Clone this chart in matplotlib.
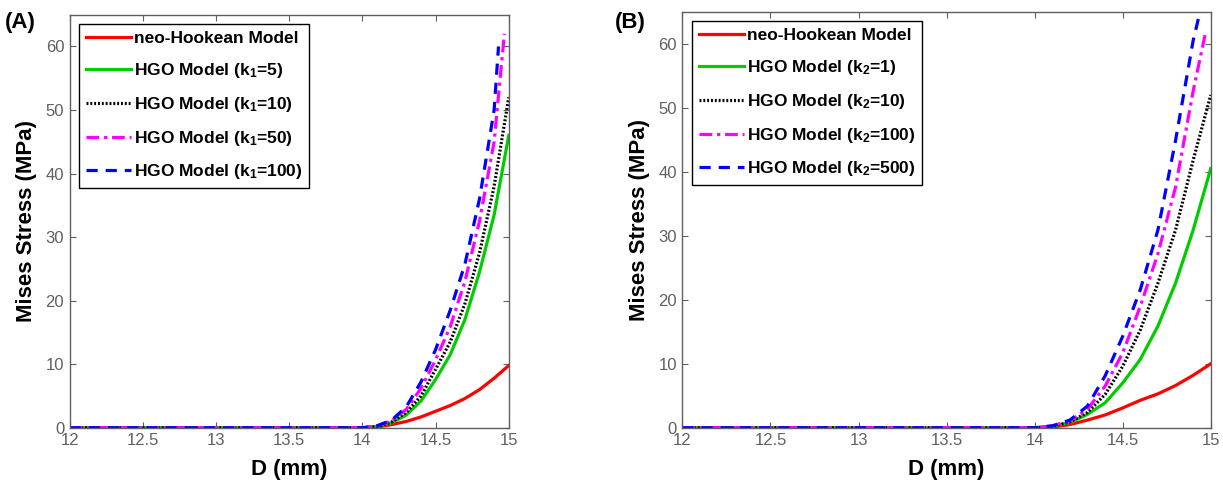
import matplotlib.pyplot as plt

plt.rcParams['font.family'] = ['Liberation Sans', 'DejaVu Sans']
plt.rcParams['mathtext.fontset'] = 'custom'
plt.rcParams['mathtext.rm'] = 'Liberation Sans:bold'
plt.rcParams['mathtext.bf'] = 'Liberation Sans:bold'
plt.rcParams['mathtext.it'] = 'Liberation Sans:bold'

# D (mm) sample points; flat zero from 12 to 14
d = [12.0, 14.0, 14.1, 14.2, 14.3, 14.4, 14.5, 14.6, 14.7, 14.8, 14.9, 15.0]

# panel A: varying k1
neo_a = [0, 0, 0.1, 0.5, 1.0, 1.7, 2.6, 3.5, 4.6, 6.0, 7.8, 9.8]
k1_5 = [0, 0, 0.2, 0.8, 2.0, 4.2, 7.6, 11.5, 17.0, 24.5, 33.5, 46.0]
k1_10 = [0, 0, 0.2, 0.9, 2.4, 5.0, 9.2, 13.5, 19.5, 27.5, 38.0, 52.0]
d_k1_50 = [12.0, 14.0, 14.1, 14.2, 14.3, 14.4, 14.5, 14.6, 14.7, 14.8, 14.9, 14.97]
k1_50 = [0, 0, 0.3, 1.1, 2.9, 6.2, 10.7, 15.9, 23.0, 32.5, 45.0, 62.0]
d_k1_100 = [12.0, 14.0, 14.1, 14.2, 14.3, 14.4, 14.5, 14.6, 14.7, 14.8, 14.9, 14.93]
k1_100 = [0, 0, 0.3, 1.2, 3.3, 7.2, 12.3, 18.5, 25.7, 36.0, 50.0, 60.0]

# panel B: varying k2
neo_b = [0, 0, 0.1, 0.5, 1.2, 2.0, 3.1, 4.3, 5.3, 6.6, 8.2, 10.0]
k2_1 = [0, 0, 0.2, 0.8, 2.1, 3.9, 7.0, 10.7, 15.9, 22.6, 30.9, 40.5]
k2_10 = [0, 0, 0.2, 0.9, 2.4, 5.2, 9.6, 15.3, 22.6, 30.9, 41.8, 52.0]
d_k2_100 = [12.0, 14.0, 14.1, 14.2, 14.3, 14.4, 14.5, 14.6, 14.7, 14.8, 14.9, 14.97]
k2_100 = [0, 0, 0.3, 1.1, 2.9, 6.5, 11.7, 19.0, 27.2, 37.6, 52.6, 61.7]
k2_500 = [0, 0, 0.3, 1.2, 3.4, 8.1, 14.3, 21.6, 30.9, 44.9, 60.5, 72.0]

xticks = [12, 12.5, 13, 13.5, 14, 14.5, 15]
yticks = [0, 10, 20, 30, 40, 50, 60]

fig = plt.figure(figsize=(12.23, 4.9), dpi=100)
ax_a = fig.add_axes([0.057, 0.127, 0.359, 0.843])
ax_b = fig.add_axes([0.558, 0.127, 0.432, 0.849])

lw = 2.3


def style(ax, series):
    (xr, yr), (xg, yg), (xk, yk), (xm, ym), (xb, yb), labels = series
    ax.plot(xr, yr, color='#ff0000', lw=lw, label=labels[0])
    ax.plot(xg, yg, color='#00cc00', lw=lw, label=labels[1])
    ax.plot(xk, yk, color='black', lw=lw, ls=(0, (0.6, 0.6)), label=labels[2])
    ax.plot(xm, ym, color='#ff00ff', lw=lw, ls=(0, (4, 1.5, 1, 1.5)), label=labels[3])
    ax.plot(xb, yb, color='#0000ff', lw=lw, ls=(0, (3.5, 2.5)), label=labels[4])
    ax.set_xlim(12, 15)
    ax.set_ylim(0, 65)
    ax.set_xticks(xticks)
    ax.set_xticklabels([f'{t:g}' for t in xticks])
    ax.set_yticks(yticks)
    ax.tick_params(direction='in', top=True, right=True, labelsize=12,
                   labelcolor='#606060', color='#606060', length=4, pad=4)
    for s in ax.spines.values():
        s.set_color('#606060')
        s.set_linewidth(1.0)
    ax.set_xlabel('D (mm)', fontsize=16, fontweight='bold', labelpad=8)
    ax.set_ylabel('Mises Stress (MPa)', fontsize=16, fontweight='bold', labelpad=6)
    leg = ax.legend(loc='upper left', prop={'weight': 'bold', 'size': 12.5},
                    fancybox=False, edgecolor='black', framealpha=1,
                    handlelength=2.6, handletextpad=0.15, labelspacing=0.85,
                    borderaxespad=0.55, borderpad=0.4)
    leg.get_frame().set_linewidth(1.0)


labels_a = ['neo-Hookean Model',
            r'HGO Model (k$_{1}$=5)',
            r'HGO Model (k$_{1}$=10)',
            r'HGO Model (k$_{1}$=50)',
            r'HGO Model (k$_{1}$=100)']
labels_b = ['neo-Hookean Model',
            r'HGO Model (k$_{2}$=1)',
            r'HGO Model (k$_{2}$=10)',
            r'HGO Model (k$_{2}$=100)',
            r'HGO Model (k$_{2}$=500)']

style(ax_a, [(d, neo_a), (d, k1_5), (d, k1_10), (d_k1_50, k1_50), (d_k1_100, k1_100), labels_a])
style(ax_b, [(d, neo_b), (d, k2_1), (d, k2_10), (d_k2_100, k2_100), (d, k2_500), labels_b])

fig.text(0.004, 0.955, '(A)', fontsize=16, fontweight='bold', va='center')
fig.text(0.503, 0.955, '(B)', fontsize=16, fontweight='bold', va='center')

fig.savefig('out.png', dpi=100)
